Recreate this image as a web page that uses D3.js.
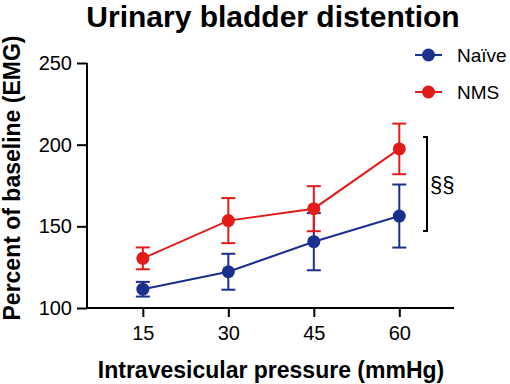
<!DOCTYPE html>
<html>
<head>
<meta charset="utf-8">
<title>Urinary bladder distention</title>
<style>
  html, body { margin: 0; padding: 0; background: #fff; }
  svg { display: block; font-family: "Liberation Sans", Arial, sans-serif; }
</style>
<script src="https://d3js.org/d3.v7.min.js"></script>
</head>
<body>
<svg id="chart" width="510" height="384"></svg>
<script>
const pressures = [15, 30, 45, 60];
const naiveMean = [111.5, 122.2, 140.6, 156.3];
const naiveErr  = [4.5, 11, 17.5, 19.3];
const nmsMean   = [130.4, 153.5, 160.8, 197.4];
const nmsErr    = [6.7, 13.8, 13.8, 15.5];
const yTicks = [100, 150, 200, 250];

const series = [
  { name: "Naïve", color: "#1b2f8f", mean: naiveMean, err: naiveErr },
  { name: "NMS",   color: "#e31b1b", mean: nmsMean,   err: nmsErr }
];

const svg = d3.select("#chart");

const x = d3.scaleLinear().domain([5.2, 69.6]).range([87, 454]);
const y = d3.scaleLinear().domain([100, 250]).range([308, 63]);

// title
svg.append("text")
  .attr("x", 273).attr("y", 27)
  .attr("text-anchor", "middle")
  .attr("font-size", "30px").attr("font-weight", "bold")
  .text("Urinary bladder distention");

// axes
const yAxis = svg.append("g")
  .attr("transform", "translate(87,0)")
  .call(d3.axisLeft(y).tickValues(yTicks).tickSize(10).tickPadding(5));
const xAxis = svg.append("g")
  .attr("transform", "translate(0,308)")
  .call(d3.axisBottom(x).tickValues(pressures).tickSize(9).tickPadding(9));

[xAxis, yAxis].forEach(g => {
  g.select(".domain").attr("stroke", "#000").attr("stroke-width", 2)
    .attr("d", g === xAxis ? "M87,0H454" : "M0,63V308");
  g.selectAll(".tick line").attr("stroke", "#000").attr("stroke-width", 2);
  g.selectAll(".tick text").attr("font-size", "20px").attr("fill", "#000")
    .attr("font-family", "Liberation Sans, Arial, sans-serif");
});

// axis labels
svg.append("text")
  .attr("transform", "translate(20,178) rotate(-90)")
  .attr("text-anchor", "middle")
  .attr("font-size", "23px").attr("font-weight", "bold")
  .text("Percent of baseline (EMG)");
svg.append("text")
  .attr("x", 271).attr("y", 378)
  .attr("text-anchor", "middle")
  .attr("font-size", "23px").attr("font-weight", "bold")
  .text("Intravesicular pressure (mmHg)");

// series
const line = d3.line().x(d => x(d.p)).y(d => y(d.v));
series.forEach(s => {
  const pts = pressures.map((p, i) => ({ p: p, v: s.mean[i], e: s.err[i] }));
  const g = svg.append("g");
  g.append("path").datum(pts)
    .attr("d", line).attr("fill", "none")
    .attr("stroke", s.color).attr("stroke-width", 2);
  const eb = g.selectAll(".eb").data(pts).enter().append("g");
  eb.append("line")
    .attr("x1", d => x(d.p)).attr("x2", d => x(d.p))
    .attr("y1", d => y(d.v + d.e)).attr("y2", d => y(d.v - d.e))
    .attr("stroke", s.color).attr("stroke-width", 2);
  [1, -1].forEach(sg => {
    eb.append("line")
      .attr("x1", d => x(d.p) - 7).attr("x2", d => x(d.p) + 7)
      .attr("y1", d => y(d.v + sg * d.e)).attr("y2", d => y(d.v + sg * d.e))
      .attr("stroke", s.color).attr("stroke-width", 2);
  });
  g.selectAll("circle").data(pts).enter().append("circle")
    .attr("cx", d => x(d.p)).attr("cy", d => y(d.v))
    .attr("r", 6.5).attr("fill", s.color);
});

// legend
const legend = svg.append("g");
series.forEach((s, i) => {
  const ly = 55 + i * 37;
  legend.append("line")
    .attr("x1", 415).attr("x2", 442).attr("y1", ly).attr("y2", ly)
    .attr("stroke", s.color).attr("stroke-width", 2);
  legend.append("circle").attr("cx", 428.5).attr("cy", ly).attr("r", 6.5).attr("fill", s.color);
  legend.append("text")
    .attr("x", 457).attr("y", ly + 7)
    .attr("font-size", "19px")
    .text(s.name);
});

// significance bracket
svg.append("path")
  .attr("d", "M423,137H427V231H423")
  .attr("fill", "none").attr("stroke", "#000").attr("stroke-width", 2);
svg.append("text")
  .attr("x", 430).attr("y", 192)
  .attr("font-size", "22px")
  .text("§§");
</script>
</body>
</html>
